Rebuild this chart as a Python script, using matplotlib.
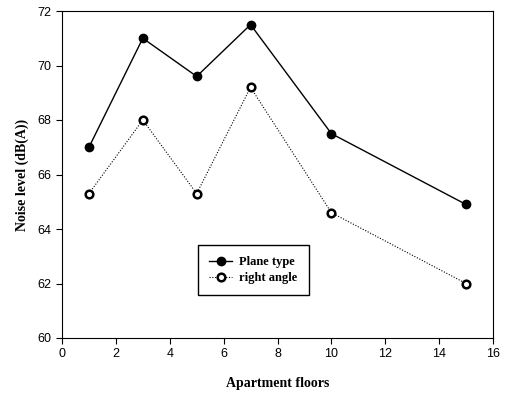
import matplotlib
matplotlib.use("Agg")
import matplotlib.pyplot as plt

# Data
floors = [1, 3, 5, 7, 10, 15]
plane_type = [67.0, 71.0, 69.6, 71.5, 67.5, 64.9]
right_angle = [65.3, 68.0, 65.3, 69.2, 64.6, 62.0]

fig = plt.figure(figsize=(5.05, 3.95), dpi=100)
ax = fig.add_axes([62 / 505, 1 - 338 / 395, 431 / 505, 327 / 395])

ax.plot(floors, plane_type, color='black', linewidth=1.0, marker='o',
        markersize=6, markerfacecolor='black', label='Plane type')
ax.plot(floors, right_angle, color='black', linewidth=0.8, linestyle=(0, (1, 1.5)),
        marker='o', markersize=5.5, markerfacecolor='white',
        markeredgewidth=1.8, label='right angle')

ax.set_xlim(0, 16)
ax.set_ylim(60, 72)
ax.set_xticks(range(0, 17, 2))
ax.set_yticks(range(60, 73, 2))
ax.tick_params(direction='out', length=4, width=0.8, labelsize=9)
for lbl in ax.get_xticklabels() + ax.get_yticklabels():
    lbl.set_fontfamily('Liberation Sans')

ax.set_xlabel('Apartment floors', fontfamily='Liberation Serif',
              fontweight='bold', fontsize=10, labelpad=12)
ax.set_ylabel('Noise level (dB(A))', fontfamily='Liberation Serif',
              fontweight='bold', fontsize=10, labelpad=6)

leg = ax.legend(loc='upper left', bbox_to_anchor=(0.316, 0.284), borderaxespad=0,
                prop={'family': 'Liberation Serif', 'weight': 'bold', 'size': 9},
                fancybox=False, edgecolor='black', framealpha=1,
                handlelength=1.8, handletextpad=0.6, borderpad=0.9, labelspacing=0.3)
leg.get_frame().set_linewidth(1.0)

fig.savefig('out.png', dpi=100)
